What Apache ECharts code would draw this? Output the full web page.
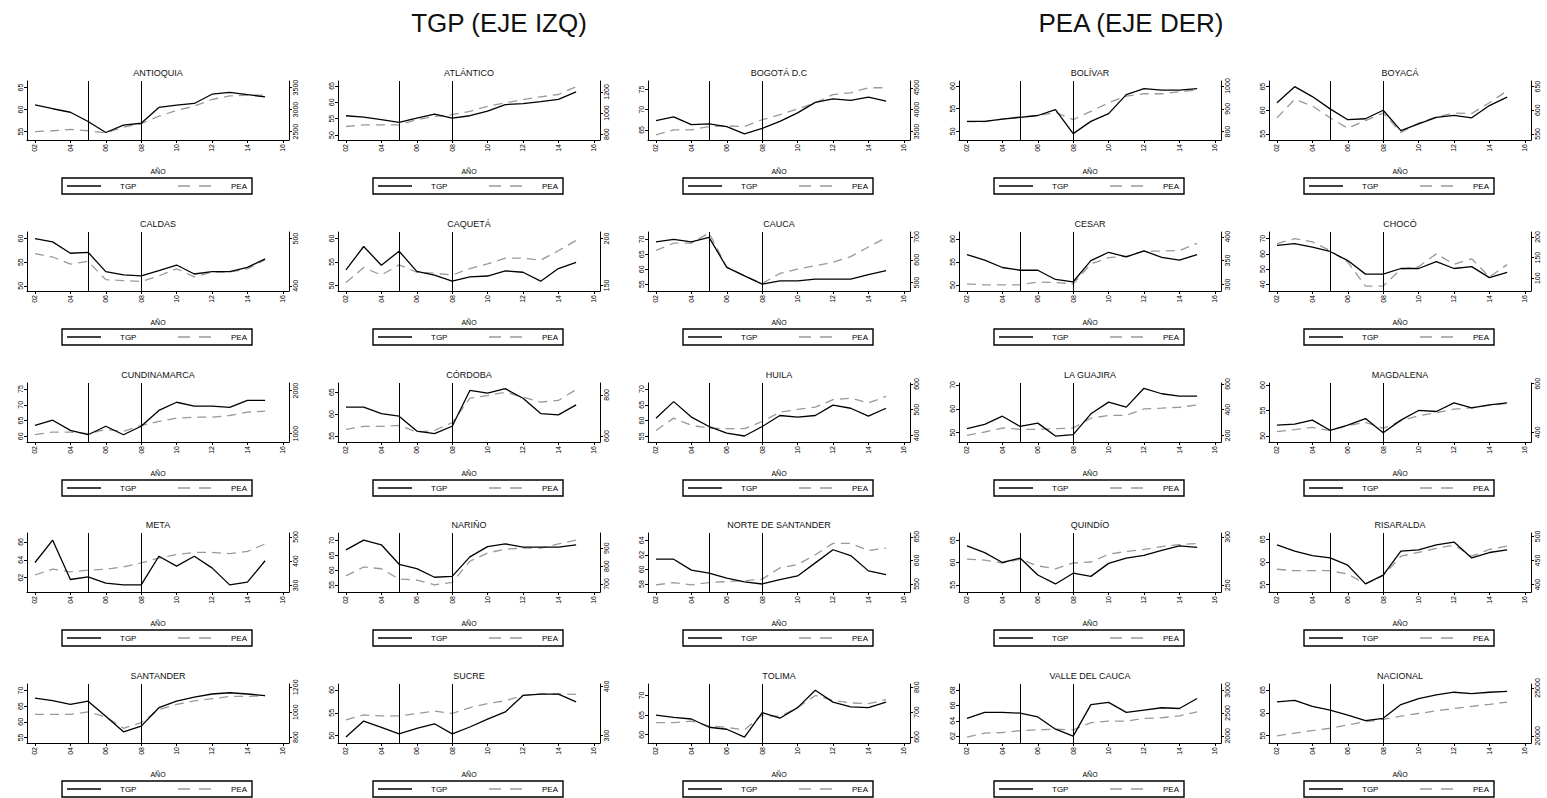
<!DOCTYPE html>
<html>
<head>
<meta charset="utf-8">
<script src="https://cdn.jsdelivr.net/npm/echarts@6/dist/echarts.min.js"></script>
<style>
html,body{margin:0;padding:0;background:#fff;}
#chart{width:1547px;height:798px;}
</style>
</head>
<body>
<div id="chart"></div>
<script>
// ---------------- DATA ----------------
const years = [2,3,4,5,6,7,8,9,10,11,12,13,14,15];
const xTicks = [2,4,6,8,10,12,14,16];
const xTickLabels = ['02','04','06','08','10','12','14','16'];
const reformYears = [5,8];

const departments = ['ANTIOQUIA','ATLÁNTICO','BOGOTÁ D.C','BOLÍVAR','BOYACÁ',
  'CALDAS','CAQUETÁ','CAUCA','CESAR','CHOCÓ',
  'CUNDINAMARCA','CÓRDOBA','HUILA','LA GUAJIRA','MAGDALENA',
  'META','NARIÑO','NORTE DE SANTANDER','QUINDÍO','RISARALDA',
  'SANTANDER','SUCRE','TOLIMA','VALLE DEL CAUCA','NACIONAL'];

const tgpAntioquia = [61.1,60.2,59.4,57.3,54.8,56.5,56.9,60.5,61.0,61.4,63.5,63.9,63.4,62.9];
const peaAntioquia = [2500,2520,2550,2520,2470,2600,2680,2850,2980,3080,3230,3310,3330,3330];
const tgpAtlantico = [55.9,55.5,54.7,53.9,55.2,56.4,55.2,55.9,57.3,59.3,59.6,60.2,60.9,63.2];
const peaAtlantico = [872,888,888,888,936,968,984,1016,1064,1096,1128,1154,1176,1250];
const tgpBogota = [67.3,68.2,66.3,66.5,65.8,64.0,65.4,67.1,69.2,71.8,72.7,72.3,73.1,72.1];
const peaBogota = [3423,3540,3540,3615,3630,3615,3770,3885,4015,4155,4345,4385,4500,4500];
const tgpBolivar = [52.2,52.2,52.7,53.1,53.5,54.8,49.5,52.2,53.9,58.1,59.4,59.1,59.1,59.4];
const peaBolivar = [844,844,855,864,870,884,852,889,926,956,966,966,975,982];
const tgpBoyaca = [61.6,65.0,62.9,60.3,58.0,58.2,60.0,55.7,57.1,58.5,58.9,58.4,61.0,62.8];
const peaBoyaca = [584,623,609,584,562,578,594,553,573,586,594,593,616,641];
const tgpCaldas = [60.0,59.3,56.9,57.1,53.0,52.3,52.1,53.2,54.4,52.5,53.0,53.0,53.9,55.7];
const peaCaldas = [468,461,446,452,413,411,409,421,436,419,429,429,436,455];
const tgpCaqueta = [53.3,58.3,54.3,57.3,53.0,52.2,50.9,51.8,52.0,53.1,52.8,50.9,53.6,54.9];
const peaCaqueta = [153,169,161,172,164,163,161,168,173,179,179,177,187,198];
const tgpCauca = [69.2,70.0,69.2,70.7,60.6,57.8,55.0,56.1,56.1,56.7,56.7,56.7,58.2,59.5];
const peaCauca = [641,673,673,718,567,530,496,540,559,574,589,614,656,697];
const tgpCesar = [56.6,55.4,53.8,53.2,53.2,51.2,50.7,55.3,57.1,56.1,57.4,56.0,55.4,56.6];
const peaCesar = [301,299,299,299,305,304,301,343,356,359,370,370,371,386];
const tgpChoco = [65.6,66.7,64.4,61.6,55.6,46.7,46.7,50.4,50.4,54.9,50.4,51.6,44.4,47.8];
const peaChoco = [184,196,188,167,139,81,81,122,128,159,134,147,103,133];
const tgpCundinamarca = [63.5,65.1,61.9,60.5,63.2,60.5,63.2,68.2,70.8,69.6,69.6,69.2,71.4,71.4];
const peaCundinamarca = [977,1039,1039,1000,1100,1054,1192,1285,1362,1385,1385,1423,1500,1523];
const tgpCordoba = [61.6,61.6,60.1,59.5,56.1,55.5,57.2,65.4,64.8,65.8,63.6,60.1,59.8,62.1];
const peaCordoba = [632,647,647,652,619,627,665,784,797,813,789,765,773,826];
const tgpHuila = [60.7,66.0,61.1,58.1,56.0,55.1,58.1,61.6,61.1,61.6,64.9,63.9,61.4,63.9];
const peaHuila = [419,467,439,428,426,426,454,490,501,510,539,545,526,552];
const tgpGuajira = [51.7,53.5,56.9,52.6,54.0,48.6,49.2,57.9,62.8,60.7,68.6,66.3,65.3,65.3];
const peaGuajira = [200,226,257,247,247,252,257,334,355,355,406,412,419,437];
const tgpMagdalena = [52.1,52.3,53.1,51.1,52.1,53.4,50.6,53.1,55.0,54.8,56.5,55.5,56.1,56.5];
const peaMagdalena = [403,411,420,407,427,441,416,447,468,481,495,501,511,519];
const tgpMeta = [63.7,66.2,61.8,62.1,61.4,61.2,61.2,64.4,63.3,64.4,63.1,61.2,61.5,63.9];
const peaMeta = [343,367,356,363,367,376,393,413,427,436,436,431,440,471];
const tgpNarino = [66.9,70.2,68.6,62.0,60.5,57.6,57.9,64.5,68.0,68.9,67.8,67.8,67.8,68.6];
const peaNarino = [745,795,785,727,722,695,709,827,873,895,900,900,924,945];
const tgpNorteSantander = [61.4,61.4,59.9,59.5,58.8,58.3,58.0,58.6,59.1,60.9,62.7,61.9,59.8,59.3];
const peaNorteSantander = [548,553,548,553,555,557,560,584,591,612,636,636,621,626];
const tgpQuindio = [63.7,62.2,60.0,61.0,57.2,55.2,57.6,56.9,59.8,61.0,61.6,62.7,63.7,63.4];
const peaQuindio = [277,276,273,277,270,267,273,274,282,285,287,290,292,293];
const tgpRisaralda = [63.8,62.4,61.4,60.9,59.3,55.2,57.1,62.4,62.7,63.8,64.4,60.9,62.1,62.7];
const peaRisaralda = [432,429,429,429,422,402,419,459,467,475,482,459,473,480];
const tgpSantander = [67.6,66.8,65.6,66.6,61.8,56.8,58.6,64.5,66.6,67.9,68.9,69.3,68.9,68.4];
const peaSantander = [982,982,982,1003,963,871,916,1021,1063,1090,1108,1126,1126,1132];
const tgpSucre = [49.7,53.2,51.8,50.4,51.6,52.6,50.4,51.9,53.6,55.2,58.8,59.1,59.1,57.4];
const peaSucre = [332,342,340,340,345,350,345,357,365,371,382,385,385,384];
const tgpTolima = [65.0,64.4,64.0,61.9,61.4,59.4,65.6,64.2,66.9,71.3,68.3,67.1,66.9,68.3];
const peaTolima = [658,658,664,645,639,629,688,682,718,767,747,737,734,750];
const tgpValle = [64.3,65.1,65.1,65.0,64.5,62.9,62.0,66.1,66.4,65.1,65.4,65.7,65.6,66.9];
const peaValle = [1971,2057,2071,2114,2129,2143,2129,2286,2321,2321,2379,2393,2436,2521];
const tgpNacional = [62.4,62.7,61.4,60.6,59.5,58.3,58.8,61.8,63.1,63.9,64.5,64.2,64.5,64.7];
const peaNacional = [20007,20280,20554,20793,21135,21477,21717,22059,22332,22606,22845,23085,23290,23529];

const tgpSeries = [tgpAntioquia,tgpAtlantico,tgpBogota,tgpBolivar,tgpBoyaca,
  tgpCaldas,tgpCaqueta,tgpCauca,tgpCesar,tgpChoco,
  tgpCundinamarca,tgpCordoba,tgpHuila,tgpGuajira,tgpMagdalena,
  tgpMeta,tgpNarino,tgpNorteSantander,tgpQuindio,tgpRisaralda,
  tgpSantander,tgpSucre,tgpTolima,tgpValle,tgpNacional];
const peaSeries = [peaAntioquia,peaAtlantico,peaBogota,peaBolivar,peaBoyaca,
  peaCaldas,peaCaqueta,peaCauca,peaCesar,peaChoco,
  peaCundinamarca,peaCordoba,peaHuila,peaGuajira,peaMagdalena,
  peaMeta,peaNarino,peaNorteSantander,peaQuindio,peaRisaralda,
  peaSantander,peaSucre,peaTolima,peaValle,peaNacional];

// tick labels (left = TGP, right = PEA)
const tgpTicks = [[55,60,65],[50,55,60,65],[65,70,75],[50,55,60],[55,60,65],
  [50,55,60],[50,55,60],[55,60,65,70],[50,55,60],[40,50,60,70],
  [60,65,70,75],[55,60,65],[55,60,65,70],[50,60,70],[50,55,60],
  [62,64,66],[55,60,65,70],[58,60,62,64],[55,60,65],[55,60,65],
  [55,60,65,70],[50,55,60],[60,65,70],[62,64,66,68],[55,60,65]];
const peaTicks = [[2500,3000,3500],[800,1000,1200],[3500,4000,4500],[800,900,1000],[550,600,650],
  [400,500],[150,200],[500,600,700],[300,350,400],[100,150,200],
  [1000,2000],[600,800],[400,500,600],[200,400,600],[400,600],
  [300,400,500],[700,800,900],[550,600,650],[250,300],[400,450,500],
  [800,1000,1200],[300,400],[600,700,800],[2000,2500,3000],[20000,25000]];
// axis extents
const tgpRange = [[53.1,66.5],[48.5,66.5],[62.5,77.1],[48.1,61.1],[53.7,66.2],
  [48.9,61.4],[48.8,61.4],[52.7,72.5],[48.7,61.5],[35.6,74.4],
  [58.2,76.9],[53.6,67.1],[53.2,71.9],[46.1,70.8],[48.8,60.4],
  [60.4,67.0],[52.6,72.6],[56.9,65.0],[53.4,66.6],[53.4,66.4],
  [53.2,72.1],[48.4,61.3],[57.9,72.9],[61.1,68.8],[53.4,66.3]];
const peaRange = [[2310,3650],[744,1304],[3308,4654],[763,1022],[537,662],
  [389,514],[144,207],[463,722],[286,410],[69,212],
  [808,2177],[571,858],[374,604],[148,608],[360,603],
  [273,516],[655,985],[533,658],[243,304],[385,507],
  [753,1226],[285,405],[576,813],[1843,3129],[19254,25410]];

const seriesNames = ['TGP','PEA'];
const headers = ['TGP (EJE IZQ)','PEA (EJE DER)'];
const xAxisName = 'AÑO';

// ---------------- CHART ----------------
const FONT = 'Liberation Sans, Arial, sans-serif';
const chart = echarts.init(document.getElementById('chart'), null, {renderer:'svg'});

const grids = [], xAxes = [], yAxes = [], series = [], graphics = [];

graphics.push({type:'text', x:499, y:23, style:{text:headers[0], font:'26px ' + FONT, fill:'#111', textAlign:'center', textVerticalAlign:'middle'}});
graphics.push({type:'text', x:1131, y:23, style:{text:headers[1], font:'26px ' + FONT, fill:'#111', textAlign:'center', textVerticalAlign:'middle'}});

const plain = v => String(Math.round(v * 100) / 100);

departments.forEach((name, i) => {
  const r = Math.floor(i / 5), c = i % 5;
  const ox = Math.round(c * 310.5);
  const oy = Math.round(r * 150.75);
  const top = 81 + oy;

  grids.push({left: ox + 27, top: top, width: 262, height: 59});

  xAxes.push({
    gridIndex: i, type: 'value', min: 1.55, max: 16.35,
    axisLine: {show: true, onZero: false, lineStyle: {color: '#000', width: 1}},
    axisTick: {show: true, length: 3, customValues: xTicks, lineStyle: {color: '#000'}},
    axisLabel: {show: true, customValues: xTicks, rotate: 90, fontSize: 7, margin: 4, color: '#000', fontFamily: FONT,
      formatter: v => xTickLabels[xTicks.indexOf(Math.round(v))] || ''},
    splitLine: {show: false},
    name: xAxisName, nameLocation: 'middle', nameGap: 28,
    nameTextStyle: {fontSize: 7, color: '#000', fontFamily: FONT}
  });

  const tR = tgpRange[i], pR = peaRange[i];
  yAxes.push({
    gridIndex: i, type: 'value', position: 'left', min: tR[0], max: tR[1],
    axisLine: {show: true, onZero: false, lineStyle: {color: '#000', width: 1}},
    axisTick: {show: true, length: 3, customValues: tgpTicks[i], lineStyle: {color: '#000'}},
    axisLabel: {show: true, customValues: tgpTicks[i], rotate: 90, fontSize: 7, margin: 3, color: '#000', fontFamily: FONT, formatter: plain},
    splitLine: {show: false}
  });
  yAxes.push({
    gridIndex: i, type: 'value', position: 'right', min: pR[0], max: pR[1],
    axisLine: {show: true, onZero: false, lineStyle: {color: '#000', width: 1}},
    axisTick: {show: true, length: 3, customValues: peaTicks[i], lineStyle: {color: '#000'}},
    axisLabel: {show: true, customValues: peaTicks[i], rotate: 90, fontSize: 7, margin: 3, color: '#000', fontFamily: FONT, formatter: plain},
    splitLine: {show: false}
  });

  series.push({
    name: seriesNames[0], type: 'line', xAxisIndex: i, yAxisIndex: 2 * i,
    data: years.map((x, k) => [x, tgpSeries[i][k]]),
    symbol: 'none', showSymbol: false, z: 3,
    lineStyle: {color: '#000', width: 1.3},
    markLine: {silent: true, symbol: ['none', 'none'], label: {show: false},
      lineStyle: {color: '#000', width: 1, type: 'solid'},
      data: reformYears.map(y => ({xAxis: y}))}
  });
  series.push({
    name: seriesNames[1], type: 'line', xAxisIndex: i, yAxisIndex: 2 * i + 1,
    data: years.map((x, k) => [x, peaSeries[i][k]]),
    symbol: 'none', showSymbol: false, z: 2,
    lineStyle: {color: '#999', width: 1.3, type: [9, 6]}
  });

  // panel title
  graphics.push({type: 'text', x: ox + 158, y: 73 + oy,
    style: {text: name, font: '9px ' + FONT, fill: '#111', textAlign: 'center', textVerticalAlign: 'middle'}});

  // legend box
  const ly = 178 + oy;
  graphics.push({type: 'rect', shape: {x: ox + 62, y: ly, width: 190, height: 16},
    style: {fill: '#fff', stroke: '#000', lineWidth: 1.4}});
  graphics.push({type: 'line', shape: {x1: ox + 67, y1: ly + 8, x2: ox + 101, y2: ly + 8},
    style: {stroke: '#000', lineWidth: 1.5}});
  graphics.push({type: 'text', x: ox + 120, y: ly + 8.5,
    style: {text: seriesNames[0], font: '8px ' + FONT, fill: '#000', textVerticalAlign: 'middle'}});
  graphics.push({type: 'line', shape: {x1: ox + 178, y1: ly + 8, x2: ox + 214, y2: ly + 8},
    style: {stroke: '#999', lineWidth: 1.5, lineDash: [12, 9]}});
  graphics.push({type: 'text', x: ox + 231, y: ly + 8.5,
    style: {text: seriesNames[1], font: '8px ' + FONT, fill: '#000', textVerticalAlign: 'middle'}});
});

chart.setOption({
  animation: false,
  backgroundColor: '#fff',
  textStyle: {fontFamily: FONT},
  grid: grids,
  xAxis: xAxes,
  yAxis: yAxes,
  series: series,
  graphic: graphics
});
</script>
</body>
</html>
